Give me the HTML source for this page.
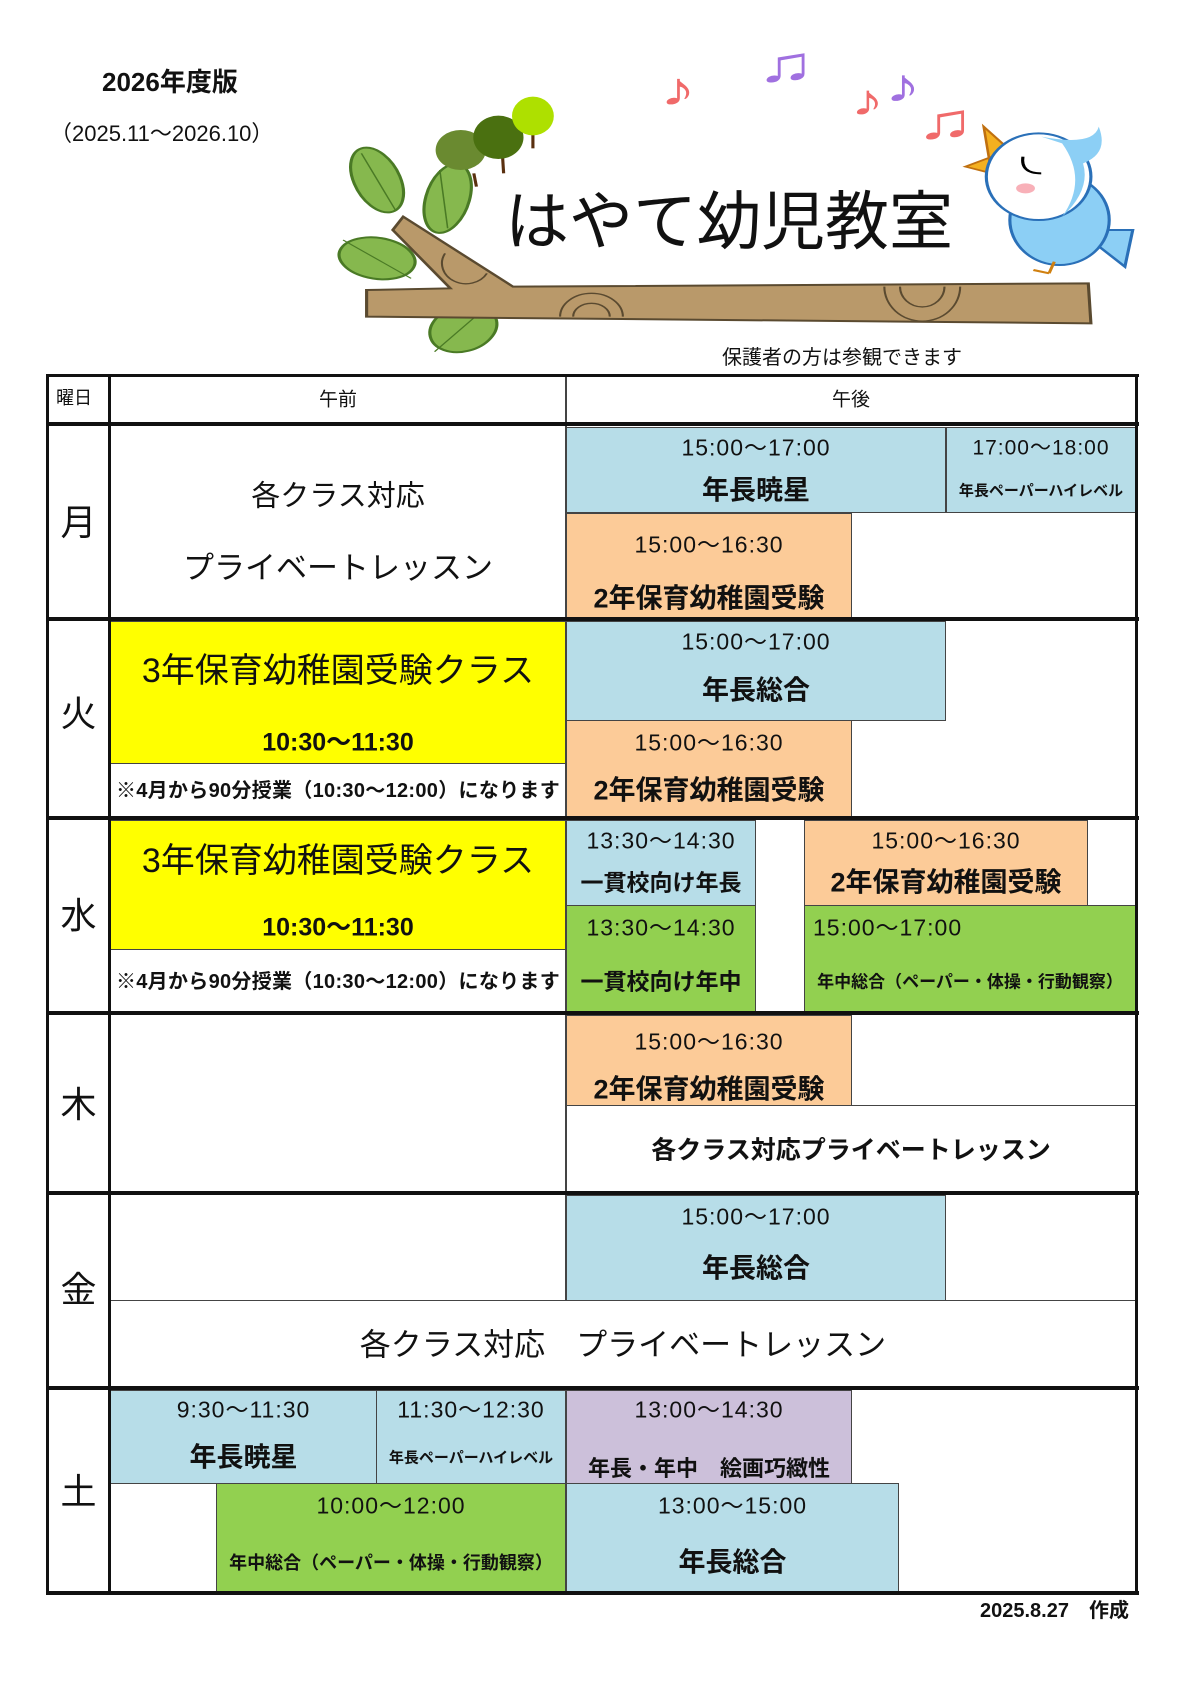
<!DOCTYPE html>
<html><head><meta charset="utf-8"><style>
body{margin:0;background:#fff}
#p{position:relative;width:1190px;height:1683px;overflow:hidden;background:#fff;font-family:"Liberation Sans","Noto Sans CJK JP",sans-serif;color:#111}
.a{position:absolute;white-space:nowrap}
.b{position:absolute;box-sizing:border-box;border:1.5px solid #444}
.t{position:absolute;left:0;right:0;text-align:center;transform:translateY(-50%);white-space:nowrap;line-height:1}
.tm{font-size:23px;letter-spacing:1px}
.nm{font-size:27px;font-weight:bold}
.bl{background:#b7dde8}.or{background:#fccb98}.ye{background:#ffff00}.gr{background:#92d050}.pu{background:#ccc0da}.wh{background:#fff}
.h{position:absolute;background:#111}
.d{position:absolute;left:47px;width:63px;text-align:center;font-size:36px;transform:translateY(-50%);line-height:1}
.nt{font-size:20px;font-weight:bold;letter-spacing:0.3px}
</style></head><body><div id="p">

<div class="a" style="left:102px;top:62px;font-size:26px;font-weight:bold">2026年度版</div>
<div class="a" style="left:50px;top:116px;font-size:22px">（2025.11〜2026.10）</div>

<svg class="a" style="left:330px;top:40px" width="820" height="330" viewBox="0 0 1568 990" preserveAspectRatio="none">
 <g stroke="#4a7a25" stroke-width="6">
  <ellipse cx="90" cy="420" rx="45" ry="100" fill="#86b84e" transform="rotate(-15 90 420)"/>
  <ellipse cx="225" cy="475" rx="42" ry="105" fill="#86b84e" transform="rotate(10 225 475)"/>
  <ellipse cx="90" cy="655" rx="75" ry="60" fill="#86b84e" transform="rotate(25 90 655)"/>
  <ellipse cx="255" cy="865" rx="60" ry="75" fill="#86b84e" transform="rotate(30 255 865)"/>
 </g>
 <g stroke="#4a7a25" stroke-width="3" fill="none">
  <line x1="60" y1="340" x2="125" y2="510"/><line x1="210" y1="390" x2="225" y2="565"/>
  <line x1="25" y1="600" x2="155" y2="715"/><line x1="300" y1="800" x2="200" y2="935"/>
 </g>
 <g stroke="#5a3010" stroke-width="6"><line x1="275" y1="400" x2="280" y2="440"/><line x1="330" y1="350" x2="332" y2="400"/><line x1="388" y1="280" x2="388" y2="325"/></g>
 <ellipse cx="250" cy="330" rx="48" ry="60" fill="#6a8a30"/>
 <ellipse cx="322" cy="292" rx="48" ry="65" fill="#4a7010"/>
 <ellipse cx="388" cy="228" rx="40" ry="58" fill="#aee000"/>
 <polygon points="70,750 230,745 120,570 140,530 350,740 1450,730 1455,850 70,830" fill="#b9996a" stroke="#5a4a30" stroke-width="6"/>
 <g fill="none" stroke="#5a4a30" stroke-width="4">
  <path d="M440 830 A60 70 0 0 1 560 830"/><path d="M465 830 A35 40 0 0 1 535 830"/>
  <path d="M1060 740 A70 100 0 0 0 1205 740"/><path d="M1090 740 A42 60 0 0 0 1175 740"/>
  <path d="M220 640 A45 60 0 0 0 300 700"/>
 </g>
 <text x="630" y="195" font-size="140" fill="#f06a6a">♪</text>
 <text x="815" y="125" font-size="150" fill="#a070e0">♫</text>
 <text x="995" y="225" font-size="130" fill="#f06a6a">♪</text>
 <text x="1060" y="185" font-size="140" fill="#a070e0">♪</text>
 <text x="1120" y="295" font-size="150" fill="#f06a6a">♫</text>
 <polygon points="1250,260 1300,330 1215,380 1265,400" fill="#f4b020" stroke="#c07010" stroke-width="5"/>
 <path d="M1430 570 L1535 570 L1520 680 Z" fill="#8ccff5" stroke="#2a70b8" stroke-width="6"/>
 <ellipse cx="1395" cy="540" rx="95" ry="135" fill="#8ccff5" stroke="#2a70b8" stroke-width="6"/>
 <ellipse cx="1355" cy="410" rx="100" ry="130" fill="#fff" stroke="#2a70b8" stroke-width="6"/>
 <path d="M1360 290 Q1460 320 1470 260 Q1490 340 1440 370 Q1455 450 1400 530 Q1450 420 1400 310 Z" fill="#8ccff5"/>
 <path d="M1325 350 Q1320 400 1360 400" fill="none" stroke="#000" stroke-width="6"/>
 <ellipse cx="1330" cy="445" rx="18" ry="15" fill="#f8b0b8"/>
 <line x1="1385" y1="665" x2="1375" y2="700" stroke="#d08010" stroke-width="6"/>
 <line x1="1375" y1="700" x2="1345" y2="690" stroke="#d08010" stroke-width="6"/>
</svg>

<div class="a" style="left:505px;top:190px;font-size:64px;line-height:1">はやて幼児教室</div>
<div class="a" style="left:722px;top:348px;font-size:20px;line-height:1">保護者の方は参観できます</div>

<div class="b wh" style="left:110px;top:375px;width:456px;height:48px"><div class="t" style="top:24px;font-size:19px">午前</div></div>
<div class="b wh" style="left:566px;top:375px;width:570px;height:48px"><div class="t" style="top:24px;font-size:19px">午後</div></div>
<div class="a" style="left:56px;top:389px;font-size:18px;line-height:1">曜日</div>

<!-- Mon -->
<div class="t" style="left:110px;width:456px;right:auto;top:497px;font-size:29px">各クラス対応</div>
<div class="t" style="left:110px;width:456px;right:auto;top:568px;font-size:31px">プライベートレッスン</div>
<div class="b bl" style="left:566px;top:427px;width:380px;height:86px"><div class="t tm" style="top:20px">15:00〜17:00</div><div class="t nm" style="top:63px">年長暁星</div></div>
<div class="b bl" style="left:946px;top:427px;width:190px;height:86px"><div class="t tm" style="top:20px;font-size:21px">17:00〜18:00</div><div class="t" style="top:63px;font-size:15px;font-weight:bold">年長ペーパーハイレベル</div></div>
<div class="b or" style="left:566px;top:513px;width:286px;height:105px"><div class="t tm" style="top:31px">15:00〜16:30</div><div class="t nm" style="top:85px">2年保育幼稚園受験</div></div>

<!-- Tue -->
<div class="b ye" style="left:110px;top:621px;width:456px;height:143px"><div class="t" style="top:49px;font-size:34px">3年保育幼稚園受験クラス</div><div class="t" style="top:121px;font-size:25px;font-weight:bold">10:30〜11:30</div></div>
<div class="t nt" style="left:110px;width:456px;right:auto;top:791px">※4月から90分授業（10:30〜12:00）になります</div>
<div class="b bl" style="left:566px;top:621px;width:380px;height:100px"><div class="t tm" style="top:20px">15:00〜17:00</div><div class="t nm" style="top:69px">年長総合</div></div>
<div class="b or" style="left:566px;top:720px;width:286px;height:97px"><div class="t tm" style="top:22px">15:00〜16:30</div><div class="t nm" style="top:70px">2年保育幼稚園受験</div></div>

<!-- Wed -->
<div class="b ye" style="left:110px;top:820px;width:456px;height:130px"><div class="t" style="top:40px;font-size:34px">3年保育幼稚園受験クラス</div><div class="t" style="top:107px;font-size:25px;font-weight:bold">10:30〜11:30</div></div>
<div class="t nt" style="left:110px;width:456px;right:auto;top:982px">※4月から90分授業（10:30〜12:00）になります</div>
<div class="b bl" style="left:566px;top:820px;width:190px;height:86px"><div class="t tm" style="top:20px">13:30〜14:30</div><div class="t" style="top:62px;font-size:23px;font-weight:bold">一貫校向け年長</div></div>
<div class="b or" style="left:804px;top:820px;width:284px;height:86px"><div class="t tm" style="top:20px">15:00〜16:30</div><div class="t nm" style="top:62px">2年保育幼稚園受験</div></div>
<div class="b gr" style="left:566px;top:905px;width:190px;height:108px"><div class="t tm" style="top:22px">13:30〜14:30</div><div class="t" style="top:76px;font-size:23px;font-weight:bold">一貫校向け年中</div></div>
<div class="b gr" style="left:804px;top:905px;width:332px;height:108px"><div class="t tm" style="top:22px;text-align:left;left:8px">15:00〜17:00</div><div class="t" style="top:76px;font-size:17px;font-weight:bold">年中総合（ペーパー・体操・行動観察）</div></div>

<!-- Thu -->
<div class="b or" style="left:566px;top:1015px;width:286px;height:91px"><div class="t tm" style="top:26px">15:00〜16:30</div><div class="t nm" style="top:74px">2年保育幼稚園受験</div></div>
<div class="b wh" style="left:566px;top:1105px;width:570px;height:88px"><div class="t" style="top:45px;font-size:25px;font-weight:bold">各クラス対応プライベートレッスン</div></div>

<!-- Fri -->
<div class="b bl" style="left:566px;top:1195px;width:380px;height:106px"><div class="t tm" style="top:21px">15:00〜17:00</div><div class="t nm" style="top:73px">年長総合</div></div>
<div class="b wh" style="left:110px;top:1300px;width:1026px;height:88px"><div class="t" style="top:44px;font-size:31px">各クラス対応　プライベートレッスン</div></div>

<!-- Sat -->
<div class="b bl" style="left:110px;top:1390px;width:267px;height:94px"><div class="t tm" style="top:19px">9:30〜11:30</div><div class="t nm" style="top:67px">年長暁星</div></div>
<div class="b bl" style="left:376px;top:1390px;width:190px;height:94px"><div class="t tm" style="top:19px">11:30〜12:30</div><div class="t" style="top:67px;font-size:15px;font-weight:bold">年長ペーパーハイレベル</div></div>
<div class="b pu" style="left:566px;top:1390px;width:286px;height:94px"><div class="t tm" style="top:19px">13:00〜14:30</div><div class="t" style="top:78px;font-size:22px;font-weight:bold">年長・年中　絵画巧緻性</div></div>
<div class="b gr" style="left:216px;top:1483px;width:350px;height:110px"><div class="t tm" style="top:22px">10:00〜12:00</div><div class="t" style="top:79px;font-size:18px;font-weight:bold">年中総合（ペーパー・体操・行動観察）</div></div>
<div class="b bl" style="left:566px;top:1483px;width:333px;height:110px"><div class="t tm" style="top:22px">13:00〜15:00</div><div class="t nm" style="top:79px">年長総合</div></div>

<!-- grid lines -->
<div class="h" style="left:565px;top:375px;width:1.5px;height:925px;background:#444"></div>
<div class="h" style="left:46px;top:374px;width:1093px;height:3px"></div>
<div class="h" style="left:46px;top:1591px;width:1093px;height:4px"></div>
<div class="h" style="left:46px;top:374px;width:3px;height:1221px"></div>
<div class="h" style="left:1135px;top:374px;width:3px;height:1221px"></div>
<div class="h" style="left:108px;top:374px;width:3px;height:1221px"></div>
<div class="h" style="left:46px;top:422px;width:1093px;height:4px"></div>
<div class="h" style="left:46px;top:617px;width:1093px;height:4px"></div>
<div class="h" style="left:46px;top:816px;width:1093px;height:4px"></div>
<div class="h" style="left:46px;top:1011px;width:1093px;height:4px"></div>
<div class="h" style="left:46px;top:1191px;width:1093px;height:4px"></div>
<div class="h" style="left:46px;top:1386px;width:1093px;height:4px"></div>

<div class="d" style="top:523px">月</div>
<div class="d" style="top:714px">火</div>
<div class="d" style="top:916px">水</div>
<div class="d" style="top:1105px">木</div>
<div class="d" style="top:1290px">金</div>
<div class="d" style="top:1492px">土</div>

<div class="a" style="left:980px;top:1601px;font-size:20px;font-weight:bold;line-height:1">2025.8.27　作成</div>
</div></body></html>
